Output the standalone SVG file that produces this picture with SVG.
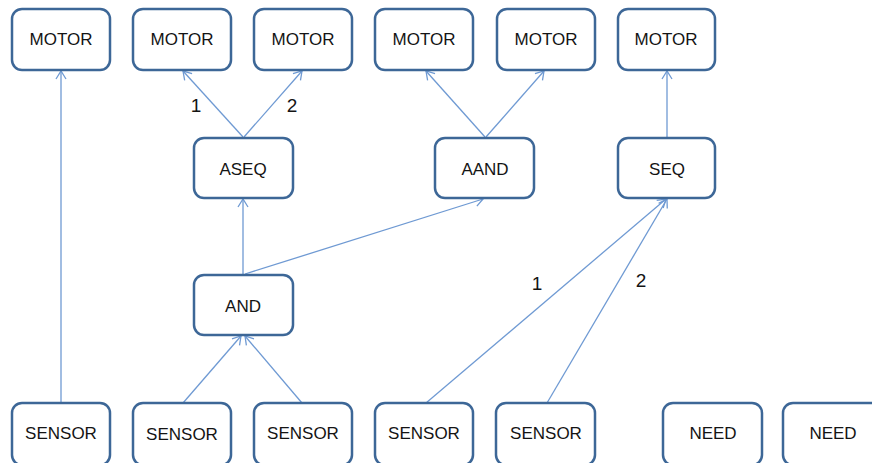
<svg xmlns="http://www.w3.org/2000/svg" width="872" height="463" viewBox="0 0 872 463">
  <style>
    .box { fill: #ffffff; stroke: #3d6797; stroke-width: 2.5; }
    .lbl { font-family: "Liberation Sans", Arial, sans-serif; font-size: 17px; fill: #141414; text-anchor: middle; }
    .num { font-family: "Liberation Sans", Arial, sans-serif; font-size: 19px; fill: #141414; text-anchor: middle; }
    .edge { stroke: #6f9ad3; stroke-width: 1.3; fill: none; marker-end: url(#arrow); }
  </style>
  <defs>
    <marker id="arrow" markerUnits="userSpaceOnUse" markerWidth="12" markerHeight="12" viewBox="0 0 12 12" refX="10" refY="6" orient="auto">
      <path d="M2,1 L10,6 L2,11" fill="none" stroke="#6f9ad3" stroke-width="1.3"/>
    </marker>
  </defs>
  <rect width="872" height="463" fill="#ffffff"/>

  <!-- connectors -->
  <g id="connectors">
    <line class="edge" x1="61" y1="403" x2="61" y2="71"/>
    <line class="edge" x1="243" y1="137" x2="183" y2="71"/>
    <line class="edge" x1="244" y1="137" x2="302" y2="71"/>
    <line class="edge" x1="485" y1="137" x2="426" y2="71"/>
    <line class="edge" x1="486" y1="137" x2="544" y2="71"/>
    <line class="edge" x1="667" y1="137" x2="667" y2="71"/>
    <line class="edge" x1="243" y1="274" x2="243" y2="199"/>
    <line class="edge" x1="245" y1="274" x2="483" y2="199"/>
    <line class="edge" x1="183" y1="403" x2="241" y2="336"/>
    <line class="edge" x1="302" y1="403" x2="245" y2="336"/>
    <line class="edge" x1="426" y1="403" x2="666" y2="199"/>
    <line class="edge" x1="547" y1="403" x2="667" y2="199"/>
    <text class="num" x="196" y="112">1</text>
    <text class="num" x="292" y="112">2</text>
    <text class="num" x="537" y="290">1</text>
    <text class="num" x="641" y="287">2</text>
  </g>

  <!-- top row -->
  <g id="motor1"><rect class="box" x="12" y="9" width="98" height="61" rx="10"/><text class="lbl" x="61" y="45">MOTOR</text></g>
  <g id="motor2"><rect class="box" x="133" y="9" width="98" height="61" rx="10"/><text class="lbl" x="182" y="45">MOTOR</text></g>
  <g id="motor3"><rect class="box" x="254" y="9" width="98" height="61" rx="10"/><text class="lbl" x="303" y="45">MOTOR</text></g>
  <g id="motor4"><rect class="box" x="375" y="9" width="98" height="61" rx="10"/><text class="lbl" x="424" y="45">MOTOR</text></g>
  <g id="motor5"><rect class="box" x="497" y="9" width="98" height="61" rx="10"/><text class="lbl" x="546" y="45">MOTOR</text></g>
  <g id="motor6"><rect class="box" x="618" y="9" width="97" height="61" rx="10"/><text class="lbl" x="666" y="45">MOTOR</text></g>

  <!-- middle rows -->
  <g id="aseq"><rect class="box" x="194" y="138" width="99" height="60" rx="10"/><text class="lbl" x="243" y="175">ASEQ</text></g>
  <g id="aand"><rect class="box" x="435" y="138" width="99" height="60" rx="10"/><text class="lbl" x="485" y="175">AAND</text></g>
  <g id="seq"><rect class="box" x="618" y="138" width="97" height="60" rx="10"/><text class="lbl" x="667" y="175">SEQ</text></g>
  <g id="and"><rect class="box" x="194" y="275" width="99" height="60" rx="10"/><text class="lbl" x="243" y="312">AND</text></g>

  <!-- bottom row -->
  <g id="sensor1"><rect class="box" x="12" y="403" width="98" height="62" rx="10"/><text class="lbl" x="61" y="439">SENSOR</text></g>
  <g id="sensor2"><rect class="box" x="133" y="403" width="98" height="62" rx="10"/><text class="lbl" x="182" y="440">SENSOR</text></g>
  <g id="sensor3"><rect class="box" x="254" y="403" width="98" height="62" rx="10"/><text class="lbl" x="303" y="439">SENSOR</text></g>
  <g id="sensor4"><rect class="box" x="375" y="403" width="98" height="62" rx="10"/><text class="lbl" x="424" y="439">SENSOR</text></g>
  <g id="sensor5"><rect class="box" x="496" y="403" width="99" height="62" rx="10"/><text class="lbl" x="546" y="439">SENSOR</text></g>
  <g id="need1"><rect class="box" x="663" y="403" width="99" height="62" rx="10"/><text class="lbl" x="713" y="439">NEED</text></g>
  <g id="need2"><rect class="box" x="783" y="403" width="99" height="62" rx="10"/><text class="lbl" x="833" y="439">NEED</text></g>
</svg>
